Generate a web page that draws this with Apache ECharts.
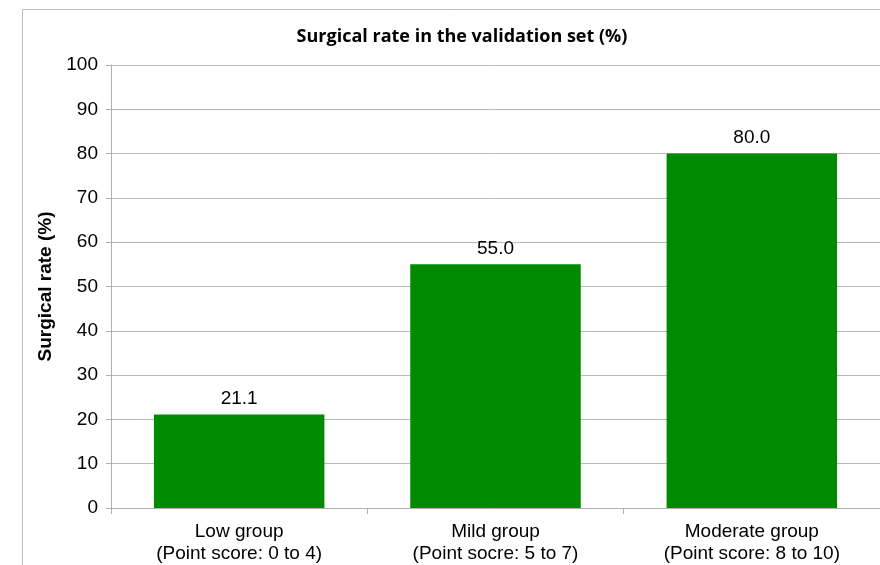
<!DOCTYPE html>
<html><head><meta charset="utf-8">
<script src="https://cdn.jsdelivr.net/npm/echarts@6/dist/echarts.min.js"></script>
<style>html,body{margin:0;padding:0;background:#fff}#c{width:880px;height:565px}</style>
</head><body><div id="c"></div>
<script>
const categories = ['Low group\n(Point score: 0 to 4)', 'Mild group\n(Point socre: 5 to 7)', 'Moderate group\n(Point score: 8 to 10)'];
const values = [21.1, 55.0, 80.0];
const yTicks = [0, 10, 20, 30, 40, 50, 60, 70, 80, 90, 100];

const chart = echarts.init(document.getElementById('c'), null, {renderer: 'canvas'});
chart.setOption({
  animation: false,
  backgroundColor: '#fff',
  graphic: [{
    type: 'rect', left: 20, top: 7, shape: {width: 900, height: 600},
    style: {fill: 'none', stroke: '#bdbdbd', lineWidth: 1}, z: -1
  }],
  title: {
    text: 'Surgical rate in the validation set (%)',
    left: 457, top: 23, textAlign: 'center',
    textStyle: {fontFamily: 'Open Sans', fontWeight: 'bold', fontSize: 18, color: '#000'}
  },
  grid: {left: 111, right: -2, top: 65, bottom: 57, containLabel: false},
  xAxis: {
    type: 'category', data: categories,
    axisLine: {lineStyle: {color: '#b0b0b0'}},
    axisTick: {show: true, alignWithLabel: false, length: 6, lineStyle: {color: '#b0b0b0'}},
    axisLabel: {fontFamily: 'Liberation Sans', fontSize: 19, color: '#000', lineHeight: 22, margin: 13}
  },
  yAxis: {
    type: 'value', min: yTicks[0], max: yTicks[yTicks.length - 1], interval: 10,
    name: 'Surgical rate (%)', nameLocation: 'middle', nameGap: 54, nameRotate: 90,
    nameTextStyle: {fontFamily: 'Liberation Sans', fontWeight: 'bold', fontSize: 19, color: '#000'},
    axisLine: {show: true, lineStyle: {color: '#b0b0b0'}},
    axisTick: {show: true, length: 5, lineStyle: {color: '#b0b0b0'}},
    splitLine: {lineStyle: {color: '#b8b8b8'}},
    axisLabel: {fontFamily: 'Liberation Sans', fontSize: 19, color: '#000', margin: 13}
  },
  series: [{
    type: 'bar', data: values, barWidth: '66.5%',
    itemStyle: {color: '#008a00'},
    label: {show: true, position: 'top', distance: 6, formatter: p => p.value.toFixed(1),
      fontFamily: 'Liberation Sans', fontSize: 19, color: '#000'}
  }]
});
</script></body></html>
